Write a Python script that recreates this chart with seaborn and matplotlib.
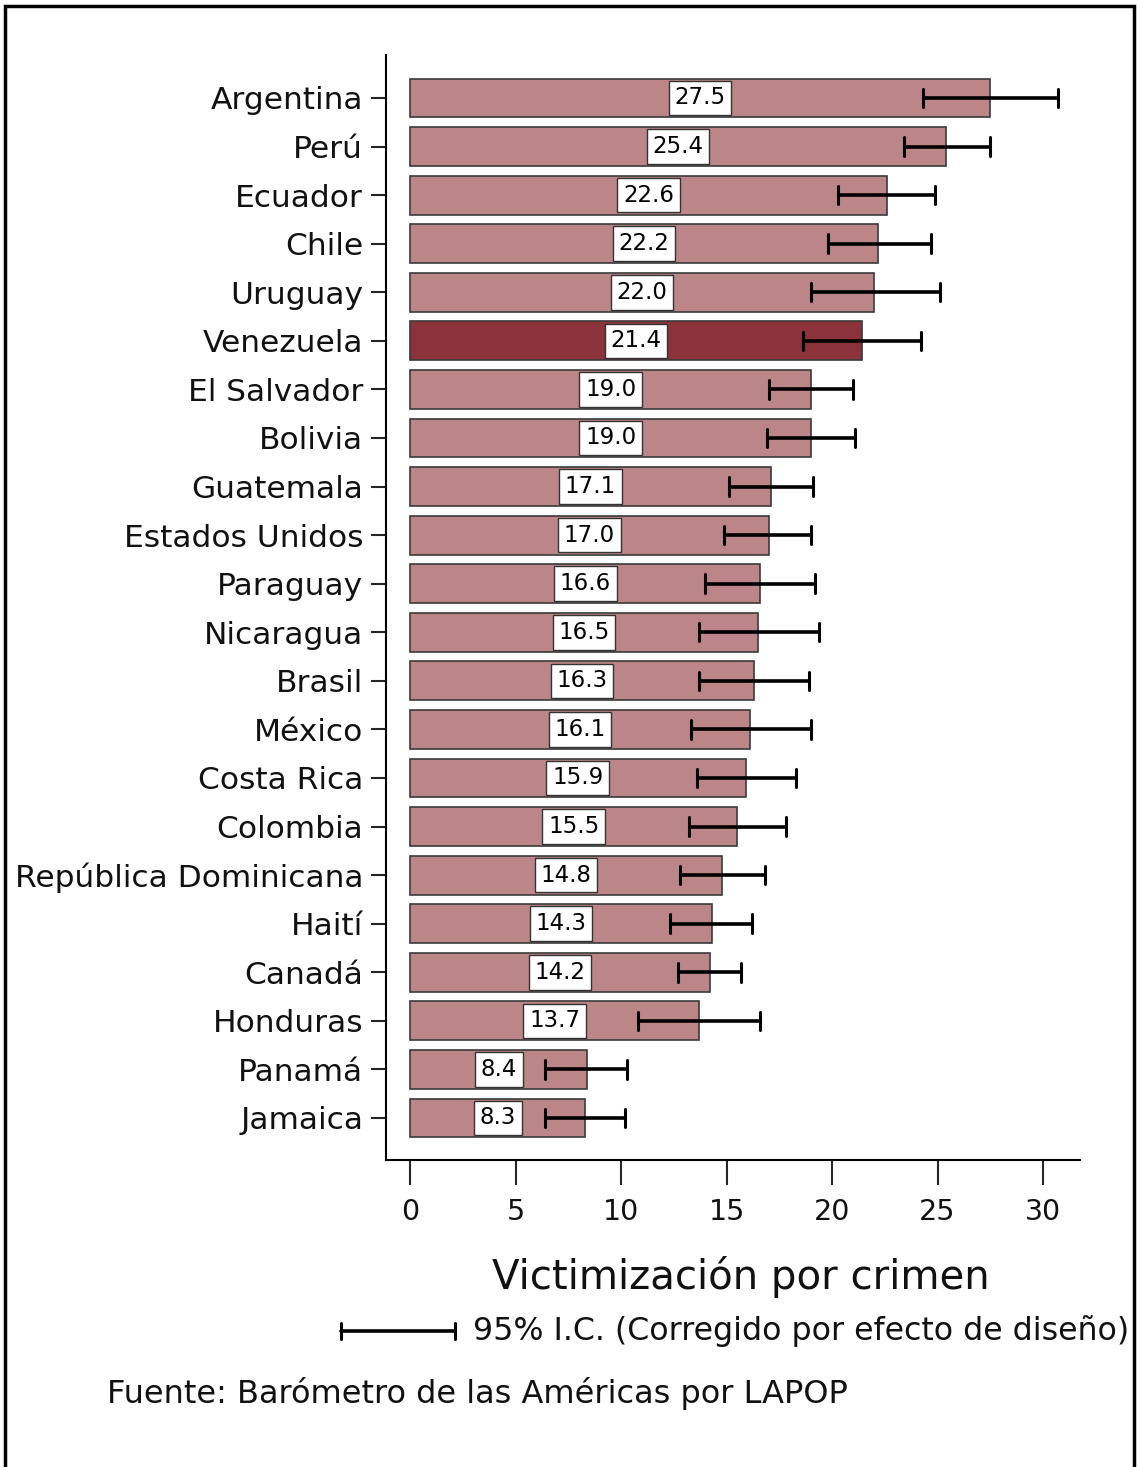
import matplotlib
matplotlib.use("Agg")
import matplotlib.pyplot as plt
import seaborn as sns
import pandas as pd
from matplotlib.patches import Rectangle

countries = ["Argentina", "Perú", "Ecuador", "Chile", "Uruguay", "Venezuela",
             "El Salvador", "Bolivia", "Guatemala", "Estados Unidos", "Paraguay",
             "Nicaragua", "Brasil", "México", "Costa Rica", "Colombia",
             "República Dominicana", "Haití", "Canadá", "Honduras", "Panamá", "Jamaica"]
values = [27.5, 25.4, 22.6, 22.2, 22.0, 21.4, 19.0, 19.0, 17.1, 17.0, 16.6,
          16.5, 16.3, 16.1, 15.9, 15.5, 14.8, 14.3, 14.2, 13.7, 8.4, 8.3]
ci_low = [24.3, 23.4, 20.3, 19.8, 19.0, 18.6, 17.0, 16.9, 15.1, 14.9, 14.0,
          13.7, 13.7, 13.3, 13.6, 13.2, 12.8, 12.3, 12.7, 10.8, 6.4, 6.4]
ci_high = [30.7, 27.5, 24.9, 24.7, 25.1, 24.2, 21.0, 21.1, 19.1, 19.0, 19.2,
           19.4, 18.9, 19.0, 18.3, 17.8, 16.8, 16.2, 15.7, 16.6, 10.3, 10.2]
highlight = "Venezuela"
xticks = [0, 5, 10, 15, 20, 25, 30]

df = pd.DataFrame({"pais": countries, "valor": values})
base_color = "#BC8587"
hi_color = "#8B323A"
palette = {c: (hi_color if c == highlight else base_color) for c in countries}

sns.set_theme(style="white")
plt.rcParams["font.family"] = ["DejaVu Sans"]

fig = plt.figure(figsize=(11.38, 14.67), dpi=100)
ax = fig.add_axes([386 / 1138, 1 - 1160 / 1467, (1080 - 386) / 1138, (1160 - 55) / 1467])

sns.barplot(data=df, x="valor", y="pais", hue="pais", palette=palette,
            order=countries, hue_order=countries, legend=False,
            width=0.8, edgecolor="#3a3a3a", linewidth=1.2, ax=ax, saturation=1)

# confidence intervals
for i, (lo, hi) in enumerate(zip(ci_low, ci_high)):
    ax.plot([lo, hi], [i, i], color="black", lw=2.6, solid_capstyle="butt", zorder=5)
    for x in (lo, hi):
        ax.plot([x, x], [i - 0.19, i + 0.19], color="black", lw=2.2, zorder=5)

# value labels in boxes
for i, v in enumerate(values):
    ax.text(v / 2, i, f"{v:.1f}", ha="center", va="center", fontsize=16.5,
            color="black", zorder=6,
            bbox=dict(boxstyle="square,pad=0.25", fc="white", ec="#333333", lw=1))

ax.set_xlim(-1.14, 31.75)
ax.set_ylim(len(countries) - 1 + 0.865, -0.885)
ax.set_xticks(xticks)
ax.set_xticklabels([str(t) for t in xticks])
ax.tick_params(axis="y", labelsize=22.5, length=11, width=1.5, direction="out", pad=5.5, left=True)
ax.tick_params(axis="x", length=18, width=1.5, direction="out", pad=9, bottom=True, labelsize=20.5)
ax.set_ylabel("")
ax.set_xlabel("")
for s in ["top", "right"]:
    ax.spines[s].set_visible(False)
for s in ["left", "bottom"]:
    ax.spines[s].set_color("black")
    ax.spines[s].set_linewidth(1.5)
for lbl in ax.get_yticklabels() + ax.get_xticklabels():
    lbl.set_color("#111111")

fig.text(741 / 1138, 1 - 1277 / 1467, "Victimización por crimen", ha="center", va="center",
         fontsize=29, color="#111111")

# legend for interval bars
ly = 1 - 1331 / 1467
fig.add_artist(plt.Line2D([341 / 1138, 455 / 1138], [ly, ly], color="black", lw=2.6))
for lx in (341 / 1138, 455 / 1138):
    fig.add_artist(plt.Line2D([lx, lx], [ly - 8 / 1467, ly + 8 / 1467], color="black", lw=2.2))
fig.text(473 / 1138, ly, "95% I.C. (Corregido por efecto de diseño)", ha="left", va="center",
         fontsize=22.8, color="#111111")

fig.text(107 / 1138, 1 - 1394 / 1467, "Fuente: Barómetro de las Américas por LAPOP",
         ha="left", va="center", fontsize=23, color="#111111")

# outer frame
fig.add_artist(Rectangle((5 / 1138, -0.05), (1134 - 5) / 1138, 1.05 - 6 / 1467,
                         fill=False, ec="black", lw=2.5, transform=fig.transFigure))

fig.savefig("out.png", dpi=100)
